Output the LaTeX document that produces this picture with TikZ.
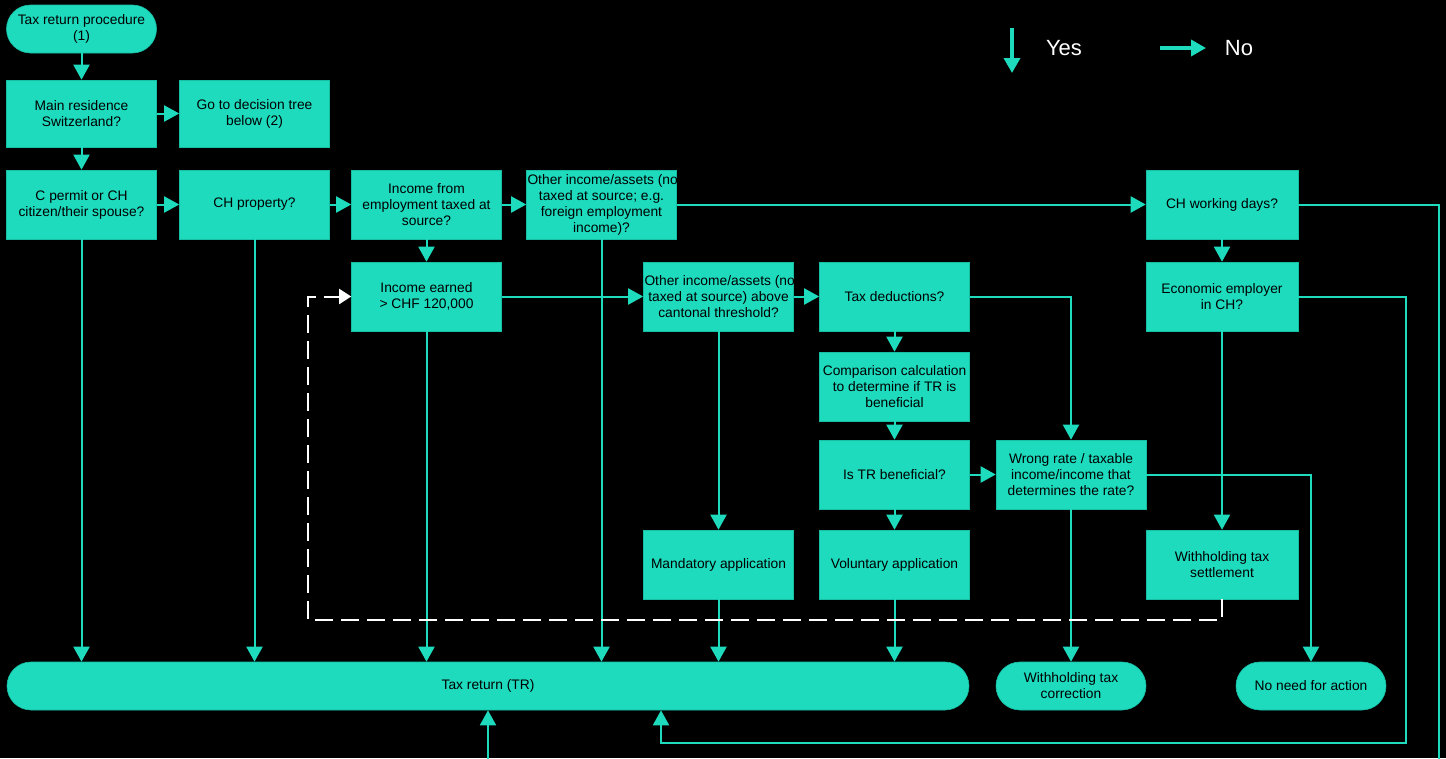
\documentclass[tikz,border=0pt]{standalone}
\usepackage{fontspec}
\setmainfont{Liberation Sans}
\usetikzlibrary{arrows.meta}
\definecolor{mint}{RGB}{30,219,190}
\definecolor{mintedge}{RGB}{22,190,164}
\newcommand{\spill}[1]{\makebox[148pt][l]{#1}}
\begin{document}
\begin{tikzpicture}
[x=1pt,y=-1pt,
 every node/.style={font=\fontsize{13.8}{16}\selectfont, text=black, align=center, inner sep=0pt},
 box/.style={rectangle, fill=mint, draw=mintedge, line width=.6pt, minimum width=150pt, minimum height=69pt},
 term/.style={box, rounded corners=24pt, minimum height=48pt},
 arr/.style={draw=mint, line width=2pt, -{Triangle[width=16pt,length=15pt]}},
 wire/.style={draw=mint, line width=2pt},
 back/.style={draw=white, line width=2pt, dash pattern=on 18pt off 8pt, -{Triangle[width=15pt,length=12pt]}}]
\fill[black] (0,0) rectangle (1446,758);
\useasboundingbox (0,0) rectangle (1446,758);

% legend
\coordinate (yesTop) at (1012,28);
\coordinate (yesEnd) at (1012,73);
\coordinate (noTail) at (1160,48);
\coordinate (noEnd) at (1206,48);
\draw[arr, line width=3.5pt] (yesTop) -- (yesEnd);
\draw[arr, line width=3.5pt] (noTail) -- (noEnd);
\node[text=white, font=\fontsize{22}{26}\selectfont] (yes) at (1064,48) {Yes};
\node[text=white, font=\fontsize{22}{26}\selectfont] (no) at (1239,48) {No};

% boxes
\node[term] (start) at (81.5,29) {Tax return procedure\\(1)};
\node[box, minimum height=67pt] (main) at (81.5,113.5) {Main residence\\Switzerland?};
\node[box, minimum height=67pt] (goto) at (254.5,113.5) {Go to decision tree\\below (2)};
\node[box] (cpermit) at (81.5,204.5) {C permit or CH\\citizen/their spouse?};
\node[box] (property) at (254.5,204.5) {CH property?};
\node[box] (employ) at (426.5,204.5) {Income from\\employment taxed at\\source?};
\node[box] (other) at (601.5,204.5) {\spill{Other income/assets (not}\\taxed at source; e.g.\\foreign employment\\income)?};
\node[box, minimum width=152pt] (workdays) at (1222,204.5) {CH working days?};
\node[box] (earned) at (426.5,296.5) {Income earned\\> CHF 120,000};
\node[box] (threshold) at (718.5,296.5) {\spill{Other income/assets (not}\\taxed at source) above\\cantonal threshold?};
\node[box] (deduct) at (894.5,296.5) {Tax deductions?};
\node[box, minimum width=152pt] (employer) at (1222,296.5) {Economic employer\\in CH?};
\node[box] (compare) at (894.5,386.5) {Comparison calculation\\to determine if TR is\\beneficial};
\node[box] (benefit) at (894.5,474.5) {Is TR beneficial?};
\node[box] (wrong) at (1071,474.5) {Wrong rate / taxable\\income/income that\\determines the rate?};
\node[box] (mandatory) at (718.5,564.5) {Mandatory application};
\node[box] (voluntary) at (894.5,564.5) {Voluntary application};
\node[box, minimum width=152pt] (settle) at (1222,564.5) {Withholding tax\\settlement};
\node[term, minimum width=962pt] (taxreturn) at (488,686) {Tax return (TR)};
\node[term] (correct) at (1071,686) {Withholding tax\\correction};
\node[term] (noaction) at (1311,686) {No need for action};

\coordinate (loop) at (1406,743);
\coordinate (offR) at (1439,760);
\coordinate (offL) at (488,760);
\coordinate (dashL) at (308,620);

\foreach \a/\b in {start/main, main/goto, main/cpermit, cpermit/property, property/employ,
  employ/other, other/workdays, employ/earned, earned/threshold, threshold/deduct,
  deduct/compare, compare/benefit, benefit/wrong, benefit/voluntary, threshold/mandatory,
  workdays/employer, employer/settle, wrong/correct}
  \draw[arr] (\a) -- (\b);
\foreach \a in {cpermit, property, earned, other, mandatory, voluntary}
  \draw[arr] (\a) -- (\a |- taxreturn.north);
\draw[arr] (deduct) -| (wrong);
\draw[arr] (wrong) -| (noaction);
\draw[arr] (employer) -| (loop) -| ([xshift=173pt]taxreturn.south);
\draw[wire] (workdays) -| (offR);
\draw[arr] (offL) -- (taxreturn.south);
\draw[back] (settle) |- (dashL) |- (earned);
\end{tikzpicture}
\end{document}
